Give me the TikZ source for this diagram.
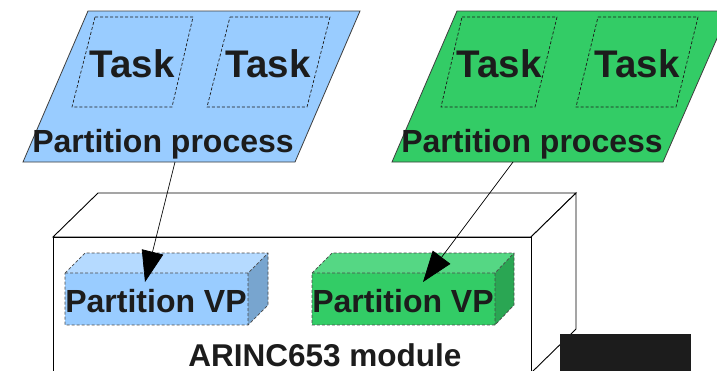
\documentclass[tikz,border=0pt]{standalone}
\usepackage{fontspec}
\setmainfont{Liberation Sans}
\usetikzlibrary{arrows.meta}
\definecolor{procblue}{HTML}{99CCFF}
\definecolor{procgreen}{HTML}{33CC66}
\definecolor{vpbluetop}{HTML}{B5DAFF}
\definecolor{vpblueside}{HTML}{78A5CF}
\definecolor{vpgreentop}{HTML}{55D784}
\definecolor{vpgreenside}{HTML}{2AA653}
\definecolor{ink}{HTML}{1C1C1C}
\tikzset{
  proc/.style={draw=ink!85, line width=0.8pt},
  taskbox/.style={draw=ink, line width=0.7pt, dash pattern=on 3pt off 2pt},
  vpface/.style={draw=ink!80, line width=0.7pt, dash pattern=on 3pt off 2pt},
  bigtext/.style={font=\bfseries\fontsize{38.5}{42}\selectfont, text=ink, inner sep=0pt},
  labeltext/.style={font=\bfseries\fontsize{32}{35}\selectfont, text=ink, inner sep=0pt},
  modtext/.style={font=\bfseries\fontsize{31.5}{34}\selectfont, text=ink, inner sep=0pt},
  link/.style={draw=black, line width=0.7pt, -{Triangle[length=31pt,width=22pt]}},
}
\begin{document}
\begin{tikzpicture}[x=1pt,y=-1pt]
\useasboundingbox (0,0) rectangle (717,370);
\clip (0,0) rectangle (717,370);
\fill[white] (0,0) rectangle (717,370);

% ARINC653 module: front, top and side faces
\draw[line width=0.9pt, fill=white] (53,237) -- (98,193) -- (576,193) -- (531,237) -- cycle;
\draw[line width=0.9pt, fill=white] (531,237) -- (576,193) -- (576,329) -- (531,373) -- cycle;
\draw[line width=0.9pt, fill=white] (53,237) rectangle (531,373);
\node[modtext, anchor=base] (module) at (325,366) {ARINC653 module};

% Partition VP boxes (blue)
\fill[procblue] (65,273) rectangle (248,325);
\fill[vpbluetop] (65,273) -- (85,253) -- (268,253) -- (248,273) -- cycle;
\fill[vpblueside] (248,273) -- (268,253) -- (268,305) -- (248,325) -- cycle;
\draw[vpface] (65,273) -- (85,253) -- (268,253) -- (268,305) -- (248,325) -- (65,325) -- cycle;
\draw[vpface] (65,273) -- (248,273) -- (268,253) (248,273) -- (248,325);
\node[labeltext, anchor=base] (vpA) at (156,312) {Partition VP};

% Partition VP boxes (green)
\fill[procgreen] (312,273) rectangle (495,325);
\fill[vpgreentop] (312,273) -- (332,253) -- (514,253) -- (495,273) -- cycle;
\fill[vpgreenside] (495,273) -- (514,253) -- (514,305) -- (495,325) -- cycle;
\draw[vpface] (312,273) -- (332,253) -- (514,253) -- (514,305) -- (495,325) -- (312,325) -- cycle;
\draw[vpface] (312,273) -- (495,273) -- (514,253) (495,273) -- (495,325);
\node[labeltext, anchor=base] (vpB) at (403,312) {Partition VP};

% Partition process parallelograms
\filldraw[proc, fill=procblue] (88,11) -- (360,11) -- (295,162) -- (23,162) -- cycle;
\draw[taskbox] (95,17) -- (193,17) -- (172,107) -- (72,107) -- cycle;
\draw[taskbox] (230,17) -- (330,17) -- (307,107) -- (207,107) -- cycle;
\node[bigtext] (taskA1) at (132,64) {Task};
\node[bigtext] (taskA2) at (268,64) {Task};
\node[labeltext, anchor=base] (procA) at (163,152) {Partition process};

\filldraw[proc, fill=procgreen] (457,11) -- (729,11) -- (663,162) -- (392,162) -- cycle;
\draw[taskbox] (462,17) -- (557,17) -- (535,107) -- (441,107) -- cycle;
\draw[taskbox] (598,17) -- (698,17) -- (676,107) -- (576,107) -- cycle;
\node[bigtext] (taskB1) at (499,64) {Task};
\node[bigtext] (taskB2) at (637,64) {Task};
\node[labeltext, anchor=base] (procB) at (532,152) {Partition process};

% Mapping connectors from each process to its VP
\coordinate (outA) at (175,162);
\coordinate (inA) at (145,282);
\coordinate (outB) at (513,162);
\coordinate (inB) at (423,282);
\draw[link] (outA) -- (inA);
\draw[link] (outB) -- (inB);

% dark block at the lower right
\fill[ink] (560,334) rectangle (691,372);
\end{tikzpicture}
\end{document}
